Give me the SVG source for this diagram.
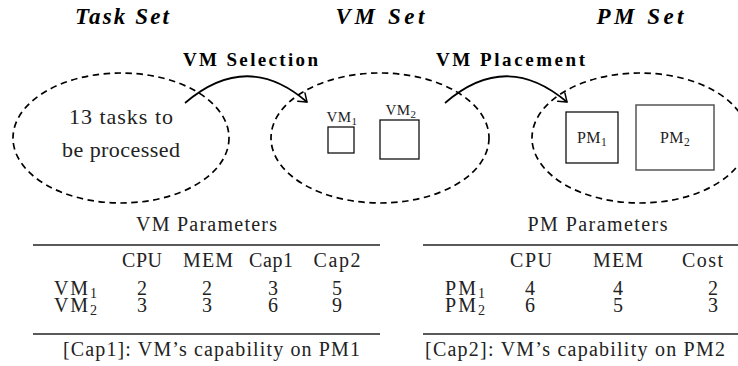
<svg xmlns="http://www.w3.org/2000/svg" width="738" height="366" viewBox="0 0 738 366">
<style>
text{font-family:'Liberation Serif','DejaVu Serif','Noto Serif',serif;fill:#000}
.title{font-size:23px;font-weight:bold;font-style:italic}
.lbl{font-size:19px;font-weight:bold}
.big{font-size:22px;fill:#222}
.tb{font-size:20px;fill:#222}
.sm{font-size:15px;fill:#222;letter-spacing:0.4px}
.set{fill:none;stroke:#000;stroke-width:1.7;stroke-dasharray:6.5 4.5}
.box{fill:#fff;stroke:#111;stroke-width:1.3}
.rule{stroke:#222;stroke-width:1.3}
.conn{fill:none;stroke:#000;stroke-width:1.7}
</style>
<defs>
<marker id="arr" markerUnits="userSpaceOnUse" markerWidth="14" markerHeight="14" viewBox="-9 -7 11 14" refX="0" refY="0" orient="auto" overflow="visible">
<path d="M-7.5,-5.5 Q-2,-1.5 0,0 Q-2,1.5 -7.5,5.5" fill="none" stroke="#000" stroke-width="1.5" stroke-linecap="round"/>
</marker>
</defs>
<rect width="738" height="366" fill="#fff"/>

<g id="task-set">
<text class="title" x="122" y="24" text-anchor="middle" textLength="94">Task Set</text>
<ellipse class="set" cx="121" cy="138" rx="108" ry="65"/>
<text class="big" x="121" y="124" text-anchor="middle" textLength="104">13 tasks to</text>
<text class="big" x="121" y="157" text-anchor="middle" textLength="118">be processed</text>
</g>

<g id="vm-set">
<text class="title" x="380" y="24" text-anchor="middle" textLength="89">VM Set</text>
<ellipse class="set" cx="380" cy="138" rx="109" ry="65"/>
</g>

<g id="vm1">
<rect class="box" x="328" y="127" width="26" height="26"/>
<text class="sm" x="342" y="122" text-anchor="middle">VM<tspan font-size="11" dy="2.5">1</tspan></text>
</g>

<g id="vm2">
<rect class="box" x="380" y="120" width="39" height="39"/>
<text class="sm" x="401" y="115" text-anchor="middle">VM<tspan font-size="11" dy="2.5">2</tspan></text>
</g>

<g id="pm-set">
<text class="title" x="640" y="24" text-anchor="middle" textLength="87">PM Set</text>
<ellipse class="set" cx="640" cy="138" rx="108" ry="65"/>
</g>

<g id="pm1">
<rect class="box" x="566" y="112" width="52" height="51"/>
<text class="sm" x="592" y="143" text-anchor="middle" style="font-size:16px">PM<tspan font-size="11.5" dy="2.5">1</tspan></text>
</g>

<g id="pm2">
<rect class="box" x="636" y="105" width="78" height="65" style="stroke:#555;stroke-width:1.5"/>
<text class="sm" x="675" y="143" text-anchor="middle" style="font-size:16px">PM<tspan font-size="11.5" dy="2.5">2</tspan></text>
</g>

<g id="connectors">
<path class="conn" d="M185,103 Q247,50 307,102" marker-end="url(#arr)"/>
<path class="conn" d="M445,103 Q506,50 567,102" marker-end="url(#arr)"/>
<text class="lbl" x="250.5" y="66" text-anchor="middle" textLength="135">VM Selection</text>
<text class="lbl" x="510.5" y="66" text-anchor="middle" textLength="149">VM Placement</text>
</g>

<g id="vm-params">
<text class="tb" x="206.5" y="231" text-anchor="middle" textLength="141">VM Parameters</text>
<line class="rule" x1="33" y1="245" x2="380" y2="245"/>
<text class="tb" x="142" y="267" text-anchor="middle" textLength="40">CPU</text>
<text class="tb" x="208" y="267" text-anchor="middle" textLength="50">MEM</text>
<text class="tb" x="271" y="267" text-anchor="middle" textLength="44">Cap1</text>
<text class="tb" x="337" y="267" text-anchor="middle" textLength="47">Cap2</text>
<text class="tb" x="54" y="295" textLength="43">VM<tspan font-size="14" dy="3">1</tspan></text>
<text class="tb" x="142" y="295" text-anchor="middle">2</text>
<text class="tb" x="207" y="295" text-anchor="middle">2</text>
<text class="tb" x="273" y="295" text-anchor="middle">3</text>
<text class="tb" x="337" y="295" text-anchor="middle">5</text>
<text class="tb" x="54" y="312" textLength="43">VM<tspan font-size="14" dy="3">2</tspan></text>
<text class="tb" x="142" y="312" text-anchor="middle">3</text>
<text class="tb" x="207" y="312" text-anchor="middle">3</text>
<text class="tb" x="273" y="312" text-anchor="middle">6</text>
<text class="tb" x="337" y="312" text-anchor="middle">9</text>
<line class="rule" x1="33" y1="334" x2="380" y2="334"/>
<text class="tb" x="211.5" y="356" text-anchor="middle" textLength="297">[Cap1]: VM’s capability on PM1</text>
</g>

<g id="pm-params">
<text class="tb" x="597.5" y="231" text-anchor="middle" textLength="140">PM Parameters</text>
<line class="rule" x1="423" y1="245" x2="738" y2="245"/>
<text class="tb" x="531" y="267" text-anchor="middle" textLength="42">CPU</text>
<text class="tb" x="618" y="267" text-anchor="middle" textLength="50">MEM</text>
<text class="tb" x="702.5" y="267" text-anchor="middle" textLength="41">Cost</text>
<text class="tb" x="445" y="295" textLength="40">PM<tspan font-size="14" dy="3">1</tspan></text>
<text class="tb" x="530" y="295" text-anchor="middle">4</text>
<text class="tb" x="618" y="295" text-anchor="middle">4</text>
<text class="tb" x="713" y="295" text-anchor="middle">2</text>
<text class="tb" x="445" y="312" textLength="40">PM<tspan font-size="14" dy="3">2</tspan></text>
<text class="tb" x="530" y="312" text-anchor="middle">6</text>
<text class="tb" x="618" y="312" text-anchor="middle">5</text>
<text class="tb" x="713" y="312" text-anchor="middle">3</text>
<line class="rule" x1="423" y1="334" x2="738" y2="334"/>
<text class="tb" x="575" y="356" text-anchor="middle" textLength="300">[Cap2]: VM’s capability on PM2</text>
</g>
</svg>
